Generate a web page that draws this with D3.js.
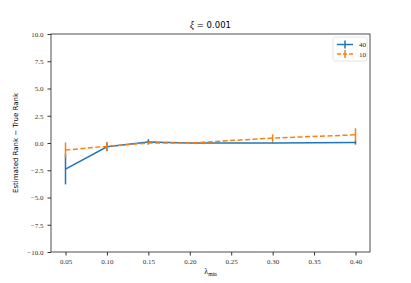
<!DOCTYPE html>
<html>
<head>
<meta charset="utf-8">
<script src="https://cdn.jsdelivr.net/npm/d3@7"></script>
<style>
  body { margin: 0; background: #fff; }
  svg { display: block; }
</style>
</head>
<body>
<svg id="chart" width="411" height="283"></svg>
<script>
// values
var lambdas40 = [0.05, 0.10, 0.15, 0.20, 0.30, 0.40];
var mean40 = [-2.4, -0.35, 0.1, 0.0, 0.0, 0.05];
var err40 = [1.4, 0.4, 0.25, 0.02, 0.02, 0.2];

var lambdas10 = [0.05, 0.10, 0.15, 0.20, 0.30, 0.40];
var mean10 = [-0.65, -0.3, 0.0, 0.0, 0.45, 0.75];
var err10 = [0.7, 0.4, 0.1, 0.02, 0.35, 0.6];

var xTicks = [0.05, 0.10, 0.15, 0.20, 0.25, 0.30, 0.35, 0.40];
var yTicks = [-10.0, -7.5, -5.0, -2.5, 0.0, 2.5, 5.0, 7.5, 10.0];

var seriesNames = ["40", "10"];
var colors = {"40": "#1f77b4", "10": "#ff7f0e"};

var svg = d3.select("svg#chart"),
  margin = {top: 34, right: 41, bottom: 31, left: 51},
  width = 411 - margin.left - margin.right,
  height = 283 - margin.top - margin.bottom;

var g = svg.append("g")
  .attr("transform", "translate(" + margin.left + "," + margin.top + ")");

var x = d3.scaleLinear().domain([0.0325, 0.4175]).range([0, width]),
  y = d3.scaleLinear().domain([-10, 10]).range([height, 0]);

var serif = "'Liberation Serif', 'DejaVu Serif', serif";
var sans = "'DejaVu Sans', sans-serif";

// axes
var xAxis = g.append("g")
  .attr("transform", "translate(0," + height + ")")
  .call(d3.axisBottom(x).tickValues(xTicks).tickFormat(d3.format(".2f")).tickSize(3.5).tickPadding(4));
var yAxis = g.append("g")
  .call(d3.axisLeft(y).tickValues(yTicks).tickFormat(function(d) {
    return d3.format(".1f")(d).replace("-", "\u2212");
  }).tickSize(3.5).tickPadding(4));

[xAxis, yAxis].forEach(function(a) {
  a.select(".domain").remove();
  a.selectAll("line").attr("stroke", "#000").attr("stroke-width", 0.8);
  a.selectAll("text").style("font-family", serif).style("font-size", "7px").attr("fill", "#333");
});

g.append("rect")
  .attr("width", width).attr("height", height)
  .attr("fill", "none").attr("stroke", "#222").attr("stroke-width", 0.8);

// series
var series = [
  {key: "40", xs: lambdas40, ys: mean40, es: err40, dash: null},
  {key: "10", xs: lambdas10, ys: mean10, es: err10, dash: "5,2.5"}
];

var line = d3.line()
  .x(function(d) { return x(d.x); })
  .y(function(d) { return y(d.y); });

series.forEach(function(s) {
  var pts = s.xs.map(function(v, i) { return {x: v, y: s.ys[i], e: s.es[i]}; });
  var layer = g.append("g");
  layer.selectAll("line.err")
    .data(pts)
    .enter().append("line")
    .attr("class", "err")
    .attr("x1", function(d) { return x(d.x); })
    .attr("x2", function(d) { return x(d.x); })
    .attr("y1", function(d) { return y(d.y - d.e); })
    .attr("y2", function(d) { return y(d.y + d.e); })
    .attr("stroke", colors[s.key])
    .attr("stroke-width", 1.5);
  layer.append("path")
    .datum(pts)
    .attr("fill", "none")
    .attr("stroke", colors[s.key])
    .attr("stroke-width", 1.5)
    .attr("stroke-dasharray", s.dash)
    .attr("d", line);
});

// title and labels
svg.append("text")
  .attr("x", margin.left + width / 2).attr("y", 28)
  .attr("text-anchor", "middle")
  .style("font-family", sans).style("font-size", "8.5px")
  .html("<tspan font-family=\"Liberation Serif\" font-style=\"italic\" font-size=\"9.5px\">\u03BE</tspan> = 0.001");

svg.append("text")
  .attr("transform", "translate(18," + (margin.top + height / 2) + ") rotate(-90)")
  .attr("text-anchor", "middle")
  .style("font-family", sans).style("font-size", "7px")
  .text("Estimated Rank \u2212 True Rank");

var xl = svg.append("text")
  .attr("x", margin.left + width / 2).attr("y", 274)
  .attr("text-anchor", "middle")
  .style("font-family", serif).style("font-size", "8px");
xl.append("tspan").text("\u03BB");
xl.append("tspan").attr("dy", 2).style("font-size", "5.5px").text("min");

// legend
var lg = g.append("g").attr("transform", "translate(" + (width - 37) + ",3)");
lg.append("rect")
  .attr("width", 34).attr("height", 24).attr("rx", 2)
  .attr("fill", "#fff").attr("stroke", "#ddd").attr("stroke-width", 0.8);
seriesNames.forEach(function(k, i) {
  var s = series[i];
  var row = lg.append("g").attr("transform", "translate(4," + (7.5 + i * 9.5) + ")");
  row.append("line").attr("x1", 0).attr("x2", 16)
    .attr("stroke", colors[k]).attr("stroke-width", 1.5).attr("stroke-dasharray", s.dash ? "4,2" : null);
  row.append("line").attr("x1", 8).attr("x2", 8).attr("y1", -4).attr("y2", 4)
    .attr("stroke", colors[k]).attr("stroke-width", 1.5);
  row.append("text").attr("x", 22).attr("y", 2.5)
    .style("font-family", serif).style("font-size", "7px").attr("fill", "#222").text(k);
});
</script>
</body>
</html>
